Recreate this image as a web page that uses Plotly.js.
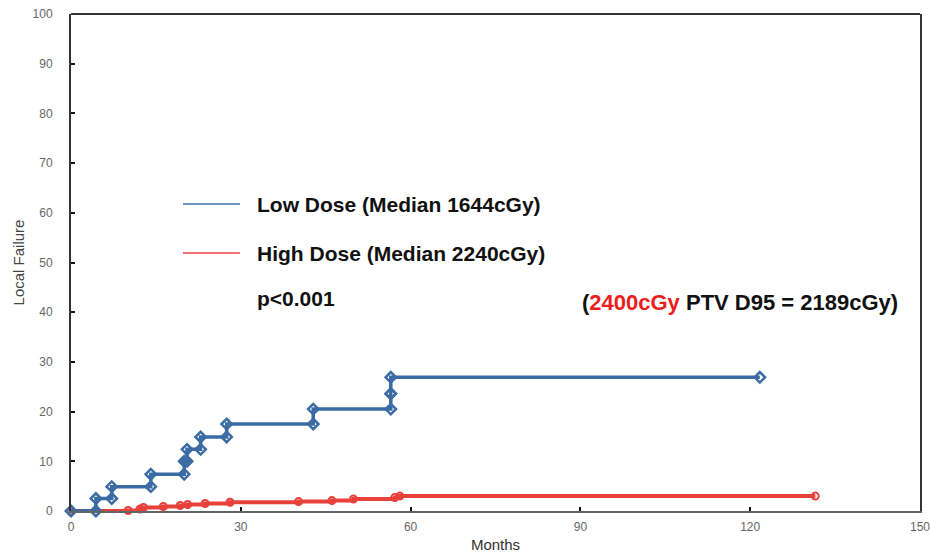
<!DOCTYPE html>
<html>
<head>
<meta charset="utf-8">
<script src="https://cdn.plot.ly/plotly-3.0.1.min.js"></script>
<style>html,body{margin:0;padding:0;background:#fff;}#chart{width:930px;height:553px;}</style>
</head>
<body>
<div id="chart"></div>
<script>
// Low dose group: event times (months) and cumulative local failure (%)
const lowTimes  = [0, 4.4, 7.2, 14.1, 20.0, 20.5, 22.9, 27.5, 42.8, 56.5, 56.5, 121.7];
const lowValues = [0, 2.5, 4.9, 7.4, 10.0, 12.4, 14.9, 17.5, 20.5, 23.6, 26.9, 26.9];
// High dose group
const highTimes  = [0, 10.1, 12.2, 12.8, 16.3, 19.3, 20.6, 23.7, 28.1, 40.2, 46.1, 49.9, 57.2, 58.1, 131.5];
const highValues = [0, 0.1, 0.4, 0.7, 0.9, 1.1, 1.3, 1.5, 1.75, 1.9, 2.1, 2.4, 2.7, 3.0, 3.0];
// Axis ticks
const xTicks = [0, 30, 60, 90, 120, 150];
const yTicks = [0, 10, 20, 30, 40, 50, 60, 70, 80, 90, 100];
// Labels
const lowLabel = 'Low Dose (Median 1644cGy)';
const highLabel = 'High Dose (Median 2240cGy)';
const pLabel = 'p<0.001';
const noteLabel = '(<span style="color:#ee1d1d">2400cGy</span> PTV D95 = 2189cGy)';

function stepVertices(t, v) {
  const xs = [t[0]], ys = [v[0]];
  for (let i = 1; i < t.length; i++) {
    xs.push(t[i]); ys.push(v[i - 1]);
    if (v[i] !== v[i - 1]) { xs.push(t[i]); ys.push(v[i]); }
  }
  return {xs, ys};
}

const low = stepVertices(lowTimes, lowValues);
const blue = '#3b6ba3';
const red = '#e8403a';

const traces = [
  {
    x: highTimes, y: highValues, type: 'scatter', mode: 'lines+markers',
    line: {color: red, width: 4, shape: 'hv'},
    marker: {symbol: 'circle-open', size: 7, color: red, line: {width: 2, color: red}},
    cliponaxis: false, showlegend: false, name: highLabel
  },
  {
    x: low.xs, y: low.ys, type: 'scatter', mode: 'lines+markers',
    line: {color: blue, width: 3.5},
    marker: {symbol: 'diamond-open', size: 8, color: blue, line: {width: 2.5, color: blue}},
    cliponaxis: false, showlegend: false, name: lowLabel
  }
];

const textFont = {family: 'Liberation Sans, Arial, sans-serif', size: 21, color: '#111'};

const layout = {
  width: 930, height: 553,
  margin: {l: 71, r: 10, t: 14, b: 42},
  paper_bgcolor: '#fff', plot_bgcolor: '#fff',
  showlegend: false,
  font: {family: 'Liberation Sans, Arial, sans-serif'},
  xaxis: {
    range: [0, 150], tickvals: xTicks, ticktext: xTicks.map(String),
    ticks: 'inside', ticklen: 4, tickwidth: 2, tickcolor: '#111',
    showgrid: false, zeroline: false,
    showline: true, linecolor: '#5f6766', linewidth: 2,
    ticklabelstandoff: 4, ticklabeloverflow: 'allow',
    tickfont: {size: 12, color: '#666'},
    title: {text: 'Months', font: {size: 15, color: '#333'}, standoff: 8}
  },
  yaxis: {
    range: [0, 100], tickvals: yTicks, ticktext: yTicks.map(String),
    ticks: 'inside', ticklen: 4, tickwidth: 2, tickcolor: '#111',
    showgrid: false, zeroline: false,
    showline: true, mirror: true, linecolor: '#333', linewidth: 2,
    ticklabelstandoff: 14, ticklabeloverflow: 'allow',
    tickfont: {size: 12, color: '#666'},
    title: {text: 'Local Failure', font: {size: 15, color: '#444'}, standoff: 4}
  },
  shapes: [
    {type: 'line', xref: 'paper', yref: 'paper', x0: 0, x1: 1, y0: 1, y1: 1, line: {color: '#333', width: 2}},
    {type: 'line', xref: 'paper', yref: 'paper', x0: 0.1319, x1: 0.199, y0: 0.6177, y1: 0.6177, line: {color: '#6f94c0', width: 2}},
    {type: 'line', xref: 'paper', yref: 'paper', x0: 0.1319, x1: 0.199, y0: 0.5191, y1: 0.5191, line: {color: '#f07272', width: 2}}
  ],
  annotations: [
    {xref: 'paper', yref: 'paper', x: 0.2167, y: 0.6177, xanchor: 'left', yanchor: 'middle', showarrow: false, text: '<b>' + lowLabel + '</b>', font: textFont},
    {xref: 'paper', yref: 'paper', x: 0.2167, y: 0.5191, xanchor: 'left', yanchor: 'middle', showarrow: false, text: '<b>' + highLabel + '</b>', font: textFont},
    {xref: 'paper', yref: 'paper', x: 0.2167, y: 0.4266, xanchor: 'left', yanchor: 'middle', showarrow: false, text: '<b>' + pLabel.replace('<', '&lt;') + '</b>', font: textFont},
    {xref: 'paper', yref: 'paper', x: 0.7874, y: 0.4205, xanchor: 'center', yanchor: 'middle', showarrow: false, text: '<b>' + noteLabel + '</b>', font: {family: 'Liberation Sans, Arial, sans-serif', size: 22, color: '#111'}}
  ]
};

Plotly.newPlot('chart', traces, layout, {displayModeBar: false, staticPlot: true});
</script>
</body>
</html>
